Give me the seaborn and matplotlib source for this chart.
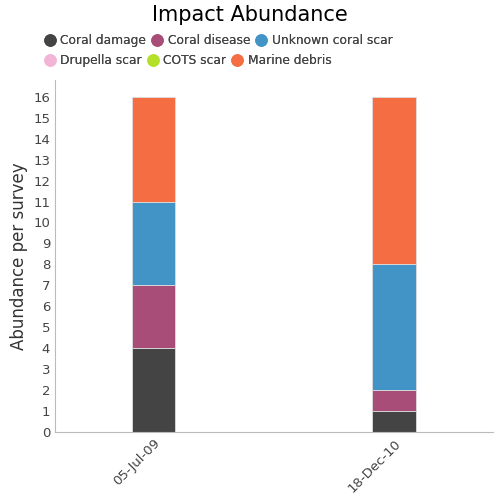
import pandas as pd
import matplotlib.pyplot as plt
import seaborn as sns
from matplotlib.lines import Line2D

dates = ['05-Jul-09', '18-Dec-10']
categories = ['Coral damage', 'Coral disease', 'Unknown coral scar',
              'Drupella scar', 'COTS scar', 'Marine debris']
coral_damage = [4, 1]
coral_disease = [3, 1]
unknown_scar = [4, 6]
drupella_scar = [0, 0]
cots_scar = [0, 0]
marine_debris = [5, 8]
colors = ['#444444', '#a84d78', '#4394c6', '#f2b5d8', '#b5e02a', '#f46d43']

series = [coral_damage, coral_disease, unknown_scar, drupella_scar, cots_scar, marine_debris]

sns.set_style('white')
plt.rcParams['font.family'] = ['DejaVu Sans']

fig, ax = plt.subplots(figsize=(5, 5), dpi=100)
fig.subplots_adjust(left=0.11, right=0.985, top=0.84, bottom=0.136)

bottom = [0, 0]
for name, vals, col in zip(categories, series, colors):
    df = pd.DataFrame({'date': dates, 'value': vals})
    sns.barplot(data=df, x='date', y='value', color=col, bottom=bottom,
                width=0.18, edgecolor='#dddddd', linewidth=0.6, ax=ax,
                saturation=1)
    bottom = [b + v for b, v in zip(bottom, vals)]

ax.set_xlim(-0.41, 1.41)
ax.set_ylim(0, 16.8)
ax.set_yticks(range(0, 17))
ax.set_xlabel('')
ax.set_ylabel('Abundance per survey', fontsize=12, color='#333333', fontweight='medium')
ax.tick_params(axis='y', labelsize=9.5, colors='#444444', length=0)
ax.tick_params(axis='x', labelsize=9.5, colors='#444444', length=0, rotation=45)
for lbl in ax.get_xticklabels():
    lbl.set_ha('right')
    lbl.set_rotation_mode('anchor')
for s in ['top', 'right']:
    ax.spines[s].set_visible(False)
for s in ['left', 'bottom']:
    ax.spines[s].set_color('#bbbbbb')

handles = [Line2D([], [], marker='o', linestyle='', markersize=8,
                  markerfacecolor=c, markeredgecolor=c, label=n)
           for n, c in zip(categories, colors)]
# two rows laid out left to right, like the original legend
for row, ypos in [(handles[:3], 0.942), (handles[3:], 0.902)]:
    leg = fig.legend(handles=row, loc='upper left', bbox_to_anchor=(0.078, ypos),
                     ncol=3, frameon=False, fontsize=8.8, handletextpad=0.35,
                     columnspacing=0.4, borderaxespad=0, handlelength=1.0,
                     labelcolor='#444444')
    fig.add_artist(leg)
fig.suptitle('Impact Abundance', fontsize=15, y=0.99, color='black')

plt.savefig('out.png', dpi=100)
